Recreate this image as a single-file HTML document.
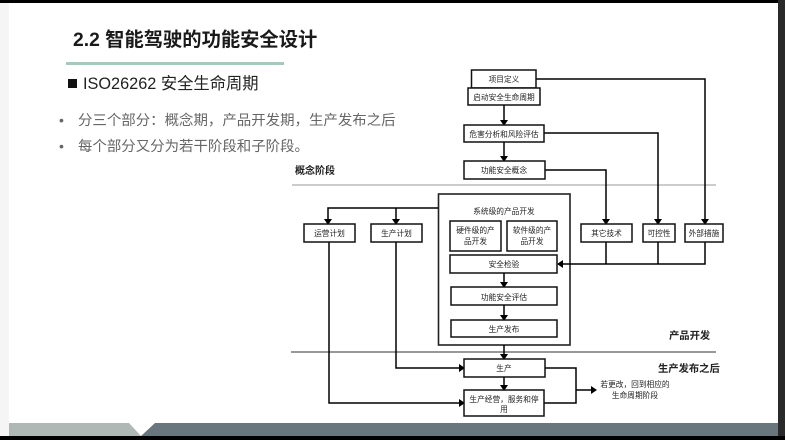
<!DOCTYPE html>
<html><head><meta charset="utf-8">
<style>
html,body{margin:0;padding:0;background:#fff}
svg{display:block;filter:blur(0.35px)}
text{font-family:"Liberation Sans","Noto Sans CJK SC",sans-serif}
.b{fill:#fff;stroke:#111;stroke-width:1.5}
.l{fill:none;stroke:#000;stroke-width:1.5}
.a{fill:#000;stroke:none}
.t{font-size:7.7px;fill:#222;text-anchor:middle}
</style></head><body>
<svg width="785" height="440" viewBox="0 0 785 440" xmlns="http://www.w3.org/2000/svg">
<rect width="785" height="440" fill="#fff"/>
<rect x="0" y="0" width="9" height="440" fill="#f5f5f5"/>
<rect x="0" y="0" width="785" height="3" fill="#000"/>
<rect x="778" y="0" width="7" height="440" fill="#2a2a2a"/>
<polygon points="9,423 129,423 141,436 9,436" fill="#b0b8b5"/>
<polygon points="155,423 778,423 778,436 141,436" fill="#6a767e"/>
<rect x="0" y="436" width="785" height="4" fill="#000"/>

<text x="73" y="46" font-size="19.300" font-weight="700" fill="#1a1a1a">2.2 智能驾驶的功能安全设计</text>
<rect x="66" y="62" width="218" height="3" fill="#a3cbbd"/>
<rect x="68" y="79" width="9" height="9" fill="#111"/>
<text x="83" y="89" font-size="16.300" fill="#222">ISO26262 安全生命周期</text>
<text x="59" y="125" font-size="14" fill="#666">•</text>
<text x="78" y="125" font-size="14.450" fill="#666">分三个部分：概念期，产品开发期，生产发布之后</text>
<text x="59" y="151" font-size="14" fill="#666">•</text>
<text x="78" y="151" font-size="14.450" fill="#666">每个部分又分为若干阶段和子阶段。</text>

<line x1="292" y1="185" x2="716" y2="185" stroke="#999" stroke-width="1"/>
<line x1="291" y1="352" x2="716" y2="352" stroke="#333" stroke-width="1"/>

<text x="295" y="174" font-size="10" font-weight="700" fill="#222">概念阶段</text>
<text x="669" y="339" font-size="10.300" font-weight="700" fill="#222">产品开发</text>
<text x="658" y="372" font-size="10.300" font-weight="700" fill="#222">生产发布之后</text>

<rect x="438.500" y="194" width="131.500" height="151" fill="#fff" stroke="#222" stroke-width="1.600"/>

<path class="l" d="M536 79H705V219M544 133H658V219M545 170H606V219"/>
<path class="l" d="M504 105V120M504 142V156M438 208H328V219M396 208V219"/>
<path class="l" d="M606 242V264M658 242V264M705 242V264H562"/>
<path class="l" d="M504 273V282M504 305V315M504 345V354M504 377V385"/>
<path class="l" d="M396 242V368H459M329 242V403H459"/>
<path class="l" d="M545 368H576V403H544M576 390H591"/>
<path class="a" d="M500 120h8l-4 6zM500 156h8l-4 6zM324 219h8l-4 6zM392 219h8l-4 6zM602 219h8l-4 6zM654 219h8l-4 6zM701 219h8l-4 6zM500 282h8l-4 6zM500 315h8l-4 6zM500 354h8l-4 6zM500 385h8l-4 6zM563 260v8l-6-4zM459 364v8l6-4zM459 399v8l6-4zM591 386v8l6-4z"/>

<rect class="b" x="471.500" y="70" width="64.500" height="18"/>
<rect class="b" x="468" y="88" width="72" height="17"/>
<rect class="b" x="464" y="125" width="80" height="17"/>
<rect class="b" x="464" y="161" width="81" height="18"/>
<rect class="b" x="304" y="224" width="51" height="18"/>
<rect class="b" x="371" y="224" width="51" height="18"/>
<rect class="b" x="450" y="221" width="51" height="30"/>
<rect class="b" x="507" y="221" width="50" height="30"/>
<rect class="b" x="581" y="224" width="51" height="18"/>
<rect class="b" x="643" y="224" width="32" height="18"/>
<rect class="b" x="685" y="224" width="38" height="18"/>
<rect class="b" x="450" y="255" width="107" height="18"/>
<rect class="b" x="451" y="287" width="106" height="18"/>
<rect class="b" x="451" y="320" width="106" height="17"/>
<rect class="b" x="464" y="359" width="81" height="18"/>
<rect class="b" x="464" y="390" width="80" height="26"/>

<text class="t" x="504" y="82">项目定义</text>
<text class="t" x="504" y="100">启动安全生命周期</text>
<text class="t" x="504" y="137">危害分析和风险评估</text>
<text class="t" x="504" y="173">功能安全概念</text>
<text class="t" x="504" y="214">系统级的产品开发</text>
<text class="t" x="329.500" y="236">运营计划</text>
<text class="t" x="396.500" y="236">生产计划</text>
<text class="t" x="475.500" y="233">硬件级的产</text>
<text class="t" x="475.500" y="244">品开发</text>
<text class="t" x="532" y="233">软件级的产</text>
<text class="t" x="532" y="244">品开发</text>
<text class="t" x="606.500" y="236">其它技术</text>
<text class="t" x="659" y="236">可控性</text>
<text class="t" x="704" y="236">外部措施</text>
<text class="t" x="504" y="267">安全检验</text>
<text class="t" x="504" y="300">功能安全评估</text>
<text class="t" x="504" y="332">生产发布</text>
<text class="t" x="504" y="371">生产</text>
<text class="t" x="504" y="402">生产经营，服务和停</text>
<text class="t" x="504" y="412">用</text>
<text class="t" x="635" y="387">若更改，回到相应的</text>
<text class="t" x="635" y="398">生命周期阶段</text>
</svg>
</body></html>
